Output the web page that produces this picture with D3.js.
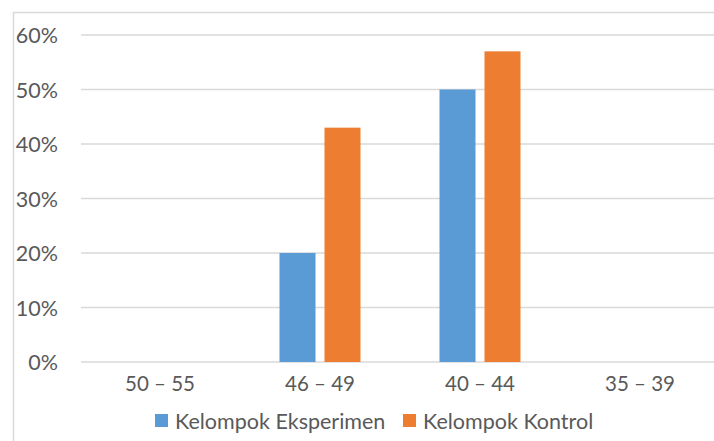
<!DOCTYPE html>
<html>
<head>
<meta charset="utf-8">
<script src="https://cdn.jsdelivr.net/npm/d3@7"></script>
<style>
  html, body { margin: 0; padding: 0; background: #fff; }
  svg { display: block; }
  text { font-family: Lato, "Open Sans", sans-serif; fill: #595959; }
</style>
</head>
<body>
<svg id="chart" width="714" height="441"></svg>
<script>
// Score ranges and share of students per group
const categories = ["50 – 55", "46 – 49", "40 – 44", "35 – 39"];
const seriesNames = ["Kelompok Eksperimen", "Kelompok Kontrol"];
const eksperimen = [0, 0.20, 0.50, 0];
const kontrol = [0, 0.43, 0.57, 0];
const yTicks = [0, 0.1, 0.2, 0.3, 0.4, 0.5, 0.6];
const colors = ["#5b9bd5", "#ed7d31"];

const svg = d3.select("#chart");
const W = 714, H = 441;

// outer chart frame
svg.append("rect")
  .attr("x", 13.5).attr("y", 12.5)
  .attr("width", 720).attr("height", 440)
  .attr("fill", "#fff").attr("stroke", "#d9d9d9").attr("stroke-width", 1.5);

const plot = { left: 80, right: 720, top: 35, bottom: 362 };

const x = d3.scaleBand().domain(categories).range([plot.left, plot.right]).paddingInner(0).paddingOuter(0);
const y = d3.scaleLinear().domain([0, 0.6]).range([plot.bottom, plot.top]);

// horizontal gridlines
svg.append("g").selectAll("line").data(yTicks).join("line")
  .attr("x1", plot.left + 1).attr("x2", W)
  .attr("y1", d => y(d)).attr("y2", d => y(d))
  .attr("stroke", "#d9d9d9").attr("stroke-width", 1.5);

// y tick labels
const yAxis = d3.axisLeft(y).tickValues(yTicks).tickFormat(d3.format(".0%")).tickSize(0).tickPadding(0);
const ya = svg.append("g").attr("transform", "translate(58,0)").call(yAxis);
ya.select(".domain").remove();
ya.selectAll("text").attr("font-size", 21.5).style("font-family", "Lato, sans-serif").attr("fill", "#595959").attr("dy", "0.35em");

// bars
const barW = 36, gap = 9;
const series = [eksperimen, kontrol];
series.forEach((vals, si) => {
  svg.append("g").selectAll("rect").data(vals.map((v, i) => ({ v, c: categories[i] })).filter(d => d.v > 0)).join("rect")
    .attr("x", d => x(d.c) + x.bandwidth() / 2 + (si === 0 ? -(barW + gap / 2) : gap / 2))
    .attr("y", d => y(d.v))
    .attr("width", barW)
    .attr("height", d => y(0) - y(d.v))
    .attr("fill", colors[si]);
});

// x category labels
const xAxis = d3.axisBottom(x).tickSize(0).tickPadding(0);
const xa = svg.append("g").attr("transform", `translate(0,${plot.bottom + 29})`).call(xAxis);
xa.select(".domain").remove();
xa.selectAll("text").attr("font-size", 20.5).style("font-family", "Lato, sans-serif").attr("fill", "#595959").attr("dy", "0");

// legend
const legend = svg.append("g");
const legendItems = [{ name: seriesNames[0], color: colors[0], x: 155 }, { name: seriesNames[1], color: colors[1], x: 403 }];
legendItems.forEach(d => {
  legend.append("rect").attr("x", d.x).attr("y", 414).attr("width", 13).attr("height", 13).attr("fill", d.color);
  legend.append("text").attr("x", d.x + 20).attr("y", 421).attr("dy", "0.35em")
    .attr("font-size", 21.5).text(d.name);
});
</script>
</body>
</html>
